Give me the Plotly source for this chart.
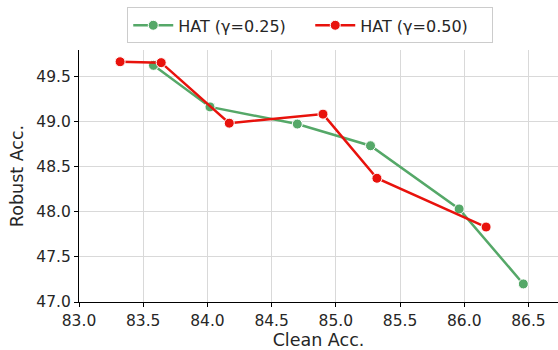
import plotly.graph_objects as go

clean_025 = [83.58, 84.02, 84.70, 85.27, 85.96, 86.46]
robust_025 = [49.62, 49.16, 48.97, 48.73, 48.03, 47.20]
clean_050 = [83.32, 83.64, 84.17, 84.90, 85.32, 86.17]
robust_050 = [49.66, 49.65, 48.98, 49.08, 48.37, 47.83]
x_ticks = [83.0, 83.5, 84.0, 84.5, 85.0, 85.5, 86.0, 86.5]
y_ticks = [47.0, 47.5, 48.0, 48.5, 49.0, 49.5]

green = "#55a868"
red = "#e8120c"

fig = go.Figure()
fig.add_trace(go.Scatter(x=clean_025, y=robust_025, mode="lines+markers", name="HAT (γ=0.25)",
                         line=dict(color=green, width=2.5),
                         marker=dict(color=green, size=10, line=dict(color="white", width=1))))
fig.add_trace(go.Scatter(x=clean_050, y=robust_050, mode="lines+markers", name="HAT (γ=0.50)",
                         line=dict(color=red, width=2.5),
                         marker=dict(color=red, size=10, line=dict(color="white", width=1))))

axis_common = dict(showgrid=True, gridcolor="#d9d9d9", gridwidth=1,
                   showline=True, linecolor="black", linewidth=1.2,
                   ticks="outside", ticklen=4, tickcolor="black", tickwidth=1.2,
                   zeroline=False, tickfont=dict(size=15.5, color="#262626"),
                   title_font=dict(size=17.5, color="#262626"))

fig.update_layout(
    width=558, height=350,
    margin=dict(l=79, r=0, t=50, b=48),
    plot_bgcolor="white", paper_bgcolor="white",
    font=dict(family="DejaVu Sans", color="#262626"),
    xaxis=dict(range=[83.0, 86.73], tickvals=x_ticks, ticktext=[f"{v:.1f}" for v in x_ticks],
               title=dict(text="Clean Acc.", standoff=3), **axis_common),
    yaxis=dict(range=[47.0, 49.79], tickvals=y_ticks, ticktext=[f"{v:.1f}" for v in y_ticks],
               title=dict(text="Robust Acc.", standoff=8), **axis_common),
    legend=dict(orientation="h", x=0.556, xanchor="center", xref="container",
                y=0.979, yanchor="top", yref="container",
                bordercolor="#cccccc", borderwidth=1,
                font=dict(size=16, color="#262626"), itemwidth=40,
                entrywidth=127, entrywidthmode="pixels"),
    showlegend=True,
)

fig.write_html("out.html")
